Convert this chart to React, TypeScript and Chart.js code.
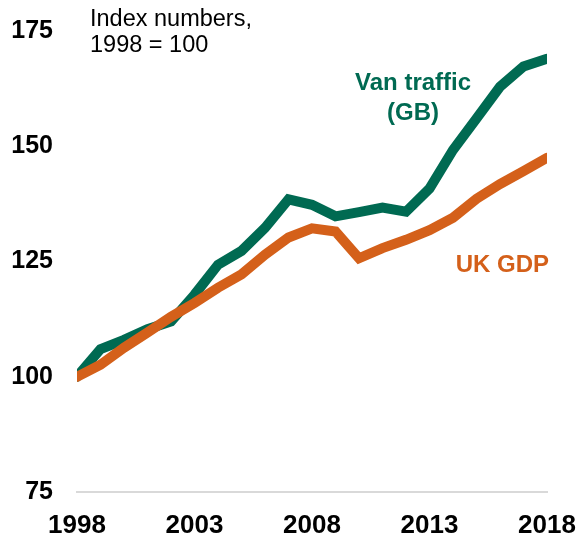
import React, { useEffect, useRef } from "react";
import { Chart, registerables } from "chart.js";

Chart.register(...registerables);

const years = [1998, 1999, 2000, 2001, 2002, 2003, 2004, 2005, 2006, 2007, 2008, 2009, 2010, 2011, 2012, 2013, 2014, 2015, 2016, 2017, 2018];
const vanTraffic = [100, 106, 108, 110.3, 112, 117.8, 124.3, 127.3, 132.3, 138.5, 137.3, 134.8, 135.7, 136.7, 135.8, 140.8, 149.2, 156, 162.9, 167.3, 169];
const ukGdp = [100, 102.6, 106.3, 109.6, 113, 116, 119.3, 122.2, 126.5, 130.2, 132.2, 131.5, 125.7, 127.9, 129.7, 131.8, 134.5, 138.6, 141.8, 144.6, 147.5];
const yTicks = [75, 100, 125, 150, 175];
const xTicks = [1998, 2003, 2008, 2013, 2018];

const GREEN = "#006A52";
const ORANGE = "#D4601A";
const FONT = "'Liberation Sans', Arial, sans-serif";

const labelsPlugin = {
  id: "textLabels",
  afterDraw(chart: any) {
    const ctx = chart.ctx;
    const xs = chart.scales.x;
    const ys = chart.scales.y;
    ctx.save();
    ctx.textBaseline = "alphabetic";
    ctx.fillStyle = "#000000";
    ctx.textAlign = "left";
    ctx.font = `23.5px ${FONT}`;
    ctx.fillText("Index numbers,", 90, 26);
    ctx.fillText("1998 = 100", 90, 52);
    ctx.font = `bold 24px ${FONT}`;
    ctx.textAlign = "center";
    ctx.fillStyle = GREEN;
    const vx = xs.getPixelForValue(2012.3);
    ctx.fillText("Van traffic", vx, ys.getPixelForValue(162.3));
    ctx.fillText("(GB)", vx, ys.getPixelForValue(155.8));
    ctx.fillStyle = ORANGE;
    ctx.fillText("UK GDP", xs.getPixelForValue(2016.1), ys.getPixelForValue(122.8));
    ctx.restore();
  },
};

export default function App() {
  const ref = useRef<HTMLCanvasElement | null>(null);
  useEffect(() => {
    document.body.style.margin = "0";
    if (!ref.current) return;
    const chart = new Chart(ref.current, {
      type: "line",
      data: {
        datasets: [
          {
            label: "UK GDP",
            data: years.map((y, i) => ({ x: y, y: ukGdp[i] })),
            borderColor: ORANGE,
            backgroundColor: ORANGE,
            borderWidth: 10,
            pointRadius: 0,
            tension: 0,
            borderCapStyle: "round",
            borderJoinStyle: "miter",
          },
          {
            label: "Van traffic (GB)",
            data: years.map((y, i) => ({ x: y, y: vanTraffic[i] })),
            borderColor: GREEN,
            backgroundColor: GREEN,
            borderWidth: 10,
            pointRadius: 0,
            tension: 0,
            borderCapStyle: "round",
            borderJoinStyle: "miter",
          },
        ],
      },
      options: {
        animation: false,
        responsive: false,
        layout: { padding: { top: 31, right: 33, bottom: 0, left: 0 } },
        plugins: { legend: { display: false }, tooltip: { enabled: false } },
        scales: {
          x: {
            type: "linear",
            min: 1998,
            max: 2018,
            afterBuildTicks: (scale: any) => {
              scale.ticks = xTicks.map((v) => ({ value: v }));
            },
            afterFit: (scale: any) => {
              scale.height = 45;
              scale.paddingLeft = 0;
              scale.paddingRight = 0;
              scale.paddingTop = 0;
              scale.paddingBottom = 0;
            },
            grid: { display: false, drawTicks: false },
            border: { display: true, color: "#D9D9D9", width: 2 },
            ticks: {
              padding: 18,
              color: "#000000",
              font: { family: FONT, size: 26, weight: "bold" },
              callback: (v: any) => String(v),
              maxRotation: 0,
              autoSkip: false,
            },
          },
          y: {
            min: 75,
            max: 175,
            afterBuildTicks: (scale: any) => {
              scale.ticks = yTicks.map((v) => ({ value: v }));
            },
            afterFit: (scale: any) => {
              scale.width = 77;
              scale.paddingLeft = 0;
              scale.paddingRight = 0;
              scale.paddingTop = 0;
              scale.paddingBottom = 0;
            },
            grid: { display: false, drawTicks: false },
            border: { display: false },
            ticks: {
              padding: 24,
              color: "#000000",
              font: { family: FONT, size: 25, weight: "bold" },
              callback: (v: any) => String(v),
            },
          },
        },
      },
      plugins: [labelsPlugin],
    } as any);
    return () => chart.destroy();
  }, []);
  return (
    <div style={{ width: 580, height: 537 }}>
      <canvas ref={ref} width={580} height={537} />
    </div>
  );
}
